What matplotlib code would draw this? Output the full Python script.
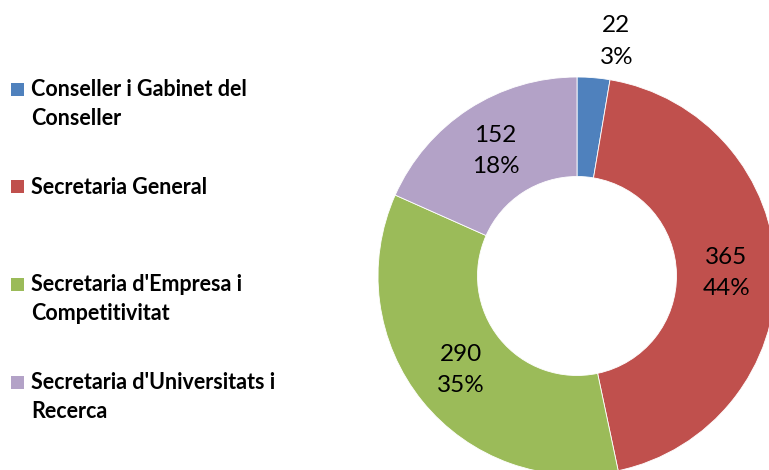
import matplotlib
matplotlib.use("Agg")
import matplotlib.pyplot as plt
import numpy as np
from matplotlib.patches import Rectangle

# data
labels = ["Conseller i Gabinet del\nConseller",
          "Secretaria General",
          "Secretaria d'Empresa i\nCompetitivitat",
          "Secretaria d'Universitats i\nRecerca"]
values = [22, 365, 290, 152]
colors = ["#4F81BD", "#C0504D", "#9BBB59", "#B3A2C7"]

plt.rcParams['font.family'] = ['Lato', 'DejaVu Sans']

W, H = 769, 470
fig = plt.figure(figsize=(W / 100, H / 100), dpi=100)

# donut axes: centre (577, 276) px, outer radius 199 px
cx, cy, R = 577, 276, 199
ax = fig.add_axes([(cx - R) / W, (H - cy - R) / H, 2 * R / W, 2 * R / H])
wedges, _ = ax.pie(values, colors=colors, startangle=90, counterclock=False,
                   radius=1, wedgeprops=dict(width=0.5, edgecolor="white", linewidth=0.6))
ax.set_xlim(-1, 1)
ax.set_ylim(-1, 1)
ax.set_aspect("equal")
ax.axis("off")

total = sum(values)
for i, (w, v) in enumerate(zip(wedges, values)):
    if i == 0:
        ang, dist = w.theta1, 1.195   # small slice: label outside
    else:
        ang, dist = (w.theta1 + w.theta2) / 2, 0.75
    x = dist * np.cos(np.radians(ang))
    y = dist * np.sin(np.radians(ang))
    pct = round(100 * v / total)
    ax.text(x, y, f"{v}\n{pct}%", ha="center", va="center", fontsize=17.5,
            linespacing=1.6, clip_on=False)

# legend drawn by hand
y0, step = 89, 97.7
for i, (lab, col) in enumerate(zip(labels, colors)):
    yc = y0 + i * step
    fig.patches.append(Rectangle((11 / W, 1 - (yc + 6.5) / H), 13 / W, 13 / H,
                                 transform=fig.transFigure, facecolor=col,
                                 edgecolor="none"))
    fig.text(31 / W, 1 - (yc - 10) / H, lab, ha="left", va="top",
             fontsize=15.5, fontweight="bold", linespacing=1.47)

fig.savefig("out.png", dpi=100)
